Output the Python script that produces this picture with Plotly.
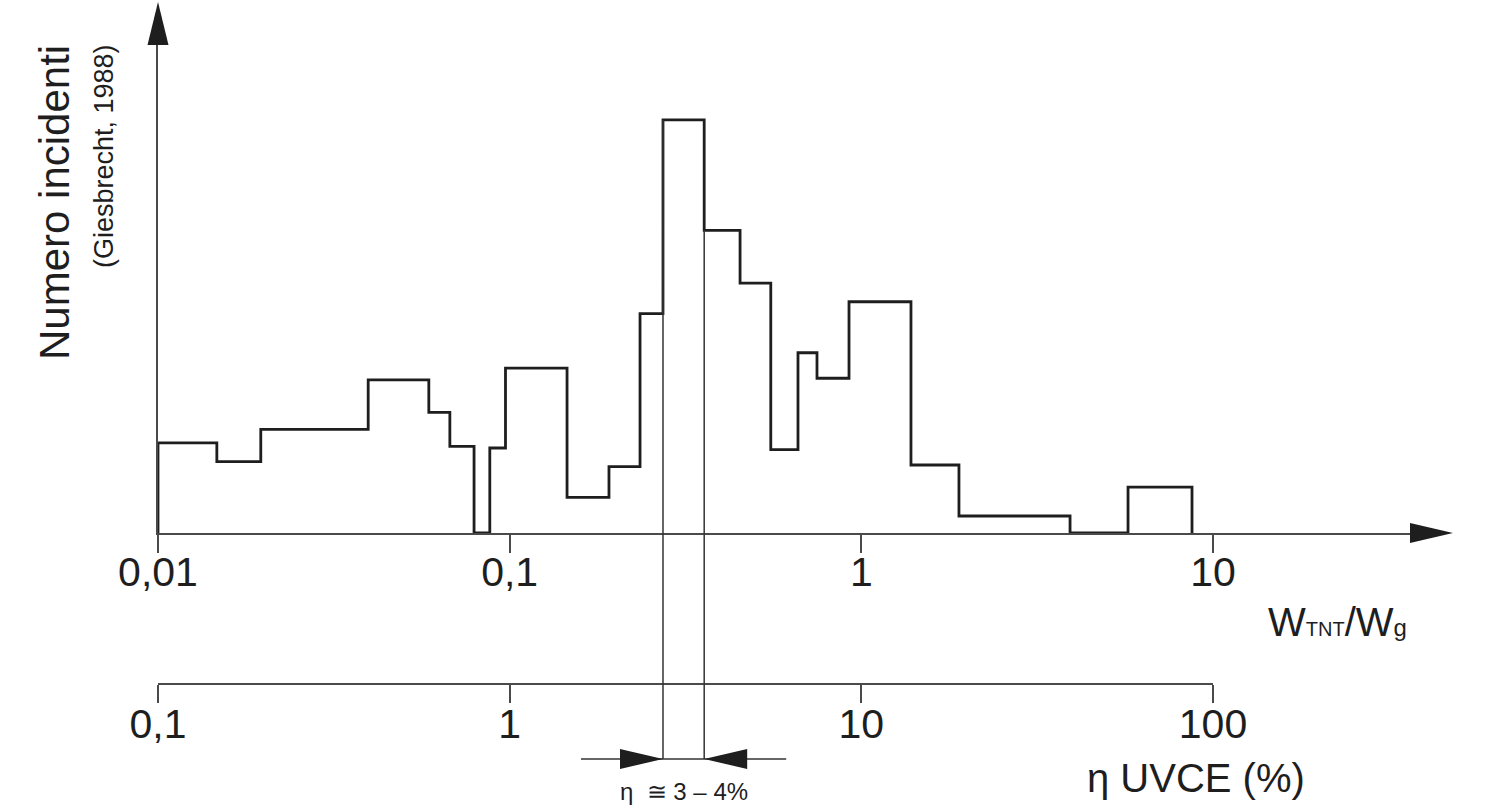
import math
import plotly.graph_objects as go

# ---------------- data ----------------
# histogram bin edges on the W_TNT/W_g axis
bin_edges = [0.01, 0.0147, 0.0196, 0.0396, 0.0589, 0.0676, 0.0792, 0.0878, 0.0973,
             0.1456, 0.1916, 0.2348, 0.2729, 0.3574, 0.452, 0.5527, 0.6605, 0.748,
             0.9225, 1.384, 1.895, 3.922, 5.733, 8.716]
# number of incidents per bin (arbitrary units, no y scale in the original)
counts = [5.3, 4.2, 6.1, 9.0, 7.1, 5.1, 0.0, 5.0, 9.7, 2.1, 3.9, 12.9, 24.3,
          17.8, 14.7, 4.9, 10.6, 9.1, 13.6, 4.0, 1.0, 0.0, 2.7]

wtnt_ticks = [0.01, 0.1, 1, 10]
wtnt_labels = ["0,01", "0,1", "1", "10"]
eta_ticks = [0.1, 1, 10, 100]
eta_labels = ["0,1", "1", "10", "100"]

band_bin = 12            # the highlighted bin (eta ~ 3-4 %)
band_text = "η  ≅ 3 – 4%"

# ---------------- layout geometry ----------------
W, H = 1485, 807
FONT = "Liberation Sans, Arial, Helvetica, sans-serif"
INK = "#1e1e1e"
AX = "#4a4a4a"

x_dom = [158 / W, 1412 / W]
decade_px = (1213 - 158) / 3.0
x_range = [-2.0, -2.0 + (1412 - 158) / decade_px]
y_dom = [1 - 533 / H, 1 - 45 / H]
y_max = 28.7

eta_dom = [158 / W, 1213 / W]
eta_range = [-1.0, 2.0]
eta_pos = 1 - 684 / H


def xpaper(v):
    f = (math.log10(v) - x_range[0]) / (x_range[1] - x_range[0])
    return x_dom[0] + f * (x_dom[1] - x_dom[0])


def ypaper(v):
    return y_dom[0] + v / y_max * (y_dom[1] - y_dom[0])


# step outline of the histogram
xs = [bin_edges[0]]
ys = [0.0]
for i, c in enumerate(counts):
    xs += [bin_edges[i], bin_edges[i + 1]]
    ys += [c, c]
xs.append(bin_edges[-1])
ys.append(0.0)

fig = go.Figure()
fig.add_trace(go.Scatter(x=xs, y=ys, mode="lines",
                         line=dict(color=INK, width=2.8, shape="linear"),
                         hoverinfo="skip", showlegend=False, cliponaxis=False))
# helper trace so the eta axis is drawn
fig.add_trace(go.Scatter(x=[eta_ticks[0], eta_ticks[-1]], y=[0, 0], xaxis="x2", yaxis="y2",
                         mode="markers", marker=dict(opacity=0), hoverinfo="skip",
                         showlegend=False))

shapes = []
px = 1.0 / W
py = 1.0 / H
# y-axis arrowhead
x0 = x_dom[0]
shapes.append(dict(type="path", xref="paper", yref="paper",
                   path=f"M {x0},{1-2*py} L {x0-10.5*px},{y_dom[1]} L {x0+10.5*px},{y_dom[1]} Z",
                   fillcolor=INK, line=dict(width=0)))
# x-axis arrowhead
yb = y_dom[0]
shapes.append(dict(type="path", xref="paper", yref="paper",
                   path=f"M {1453*px},{yb} L {1410*px},{yb+10*py} L {1410*px},{yb-10*py} Z",
                   fillcolor=INK, line=dict(width=0)))

# vertical lines bounding the highlighted bin, down to the eta marker
y_mark = 1 - 759 / H
lo, hi = bin_edges[band_bin], bin_edges[band_bin + 1]
xl = xpaper(lo)
xh = xpaper(hi)
for xe, h in [(xl, counts[band_bin]), (xh, counts[band_bin + 1])]:
    shapes.append(dict(type="line", xref="paper", yref="paper",
                       x0=xe, x1=xe, y0=y_mark, y1=ypaper(h),
                       line=dict(color="#333333", width=1.5)))

# eta band arrows
shapes.append(dict(type="line", xref="paper", yref="paper", x0=xl - 82 * px, x1=xh + 82 * px,
                   y0=y_mark, y1=y_mark, line=dict(color="#333333", width=1.5)))
shapes.append(dict(type="path", xref="paper", yref="paper",
                   path=f"M {xl},{y_mark} L {xl-43*px},{y_mark+10*py} L {xl-43*px},{y_mark-10*py} Z",
                   fillcolor=INK, line=dict(width=0)))
shapes.append(dict(type="path", xref="paper", yref="paper",
                   path=f"M {xh},{y_mark} L {xh+43*px},{y_mark+10*py} L {xh+43*px},{y_mark-10*py} Z",
                   fillcolor=INK, line=dict(width=0)))

annotations = [
    dict(text="Numero incidenti", x=54 * px, y=1 - 203 * py, xref="paper", yref="paper",
         textangle=-90, showarrow=False, xanchor="center", yanchor="middle",
         font=dict(family=FONT, size=42, color=INK)),
    dict(text="(Giesbrecht, 1988)", x=104 * px, y=1 - 156 * py, xref="paper", yref="paper",
         textangle=-90, showarrow=False, xanchor="center", yanchor="middle",
         font=dict(family=FONT, size=27, color=INK)),
    dict(text="W<span style='font-size:20px'>TNT</span>/W<span style='font-size:24px'>g</span>",
         x=1266 * px, y=1 - 646 * py, xref="paper", yref="paper", showarrow=False,
         xanchor="left", yanchor="bottom", font=dict(family=FONT, size=40, color=INK)),
    dict(text="η UVCE (%)", x=1196 * px, y=1 - 778 * py, xref="paper", yref="paper",
         showarrow=False, xanchor="center", yanchor="middle",
         font=dict(family=FONT, size=40, color=INK)),
    dict(text=band_text, x=(xl + xh) / 2, y=1 - 791 * py, xref="paper", yref="paper",
         showarrow=False, xanchor="center", yanchor="middle",
         font=dict(family=FONT, size=24, color=INK)),
]

fig.update_layout(
    width=W, height=H, autosize=False,
    margin=dict(l=0, r=0, t=0, b=0, pad=0),
    paper_bgcolor="white", plot_bgcolor="white",
    template="none",
    showlegend=False,
    xaxis=dict(type="log", domain=x_dom, range=x_range, anchor="y",
               showline=True, linecolor=AX, linewidth=2, showgrid=False, zeroline=False,
               ticks="outside", ticklen=18, tickwidth=2, tickcolor=AX,
               tickvals=wtnt_ticks, ticktext=wtnt_labels, ticklabelstandoff=-16,
               tickfont=dict(family=FONT, size=41, color=INK), automargin=False),
    yaxis=dict(domain=y_dom, range=[0, y_max], anchor="x",
               showline=True, linecolor=AX, linewidth=2, showgrid=False, zeroline=False,
               ticks="", showticklabels=False, automargin=False),
    xaxis2=dict(type="log", domain=eta_dom, range=eta_range, anchor="free", position=eta_pos,
                showline=True, linecolor=AX, linewidth=2, showgrid=False, zeroline=False,
                ticks="outside", ticklen=18, tickwidth=2, tickcolor=AX,
                tickvals=eta_ticks, ticktext=eta_labels, ticklabelstandoff=-14,
                tickfont=dict(family=FONT, size=41, color=INK), automargin=False),
    yaxis2=dict(domain=[0, 0.05], anchor="x2", visible=False, range=[0, 1]),
    shapes=shapes,
    annotations=annotations,
)

fig.write_html("out.html", config={"displayModeBar": False},
               post_script="document.body.style.margin='0';document.body.style.overflow='hidden';")
